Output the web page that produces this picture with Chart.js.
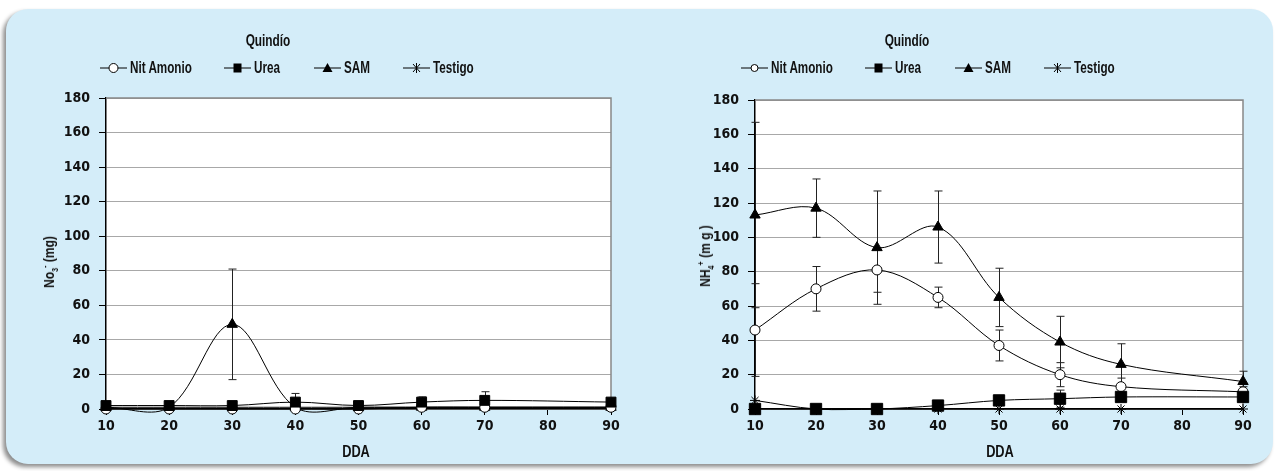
<!DOCTYPE html>
<html>
<head>
<meta charset="utf-8">
<script src="https://cdn.jsdelivr.net/npm/chart.js@4.4.0/dist/chart.umd.min.js"></script>
<style>
    body { margin: 0; width: 1280px; height: 471px; background: #ffffff; position: relative; overflow: hidden; }
    .panel { position: absolute; left: 6px; top: 9px; width: 1267px; height: 455px; border-radius: 22px;
             background: #d4edf9; box-shadow: -3px 3px 4px rgba(0,0,0,0.45); }
    canvas.plot { position: absolute; top: 0; }
    .txt { position: absolute; font-family: 'Liberation Sans', Arial, sans-serif; font-weight: bold; color: #111; white-space: nowrap; }
    .title { font-size: 16px; transform: translateX(-50%) scaleX(0.74); }
    .dda { font-size: 16px; transform: translateX(-50%) scaleX(0.8); }
    .ylab { font-size: 15px; transform: translate(-50%, -50%) rotate(-90deg) scaleX(0.8); }
    .ylab sub, .ylab sup { font-size: 9px; }
    .leg { font-size: 16px; display: flex; align-items: center; }
    .leg svg { margin-right: 3px; }
    .leg span { display: inline-block; transform: scaleX(0.73); transform-origin: left center; }
</style>
</head>
<body>
<div class="panel"></div>
<canvas id="no3Chart" class="plot" style="left:0px" width="640" height="471"></canvas>
<canvas id="nh4Chart" class="plot" style="left:640px" width="640" height="471"></canvas>

<div class="txt title" style="left:268px; top:32px">Quindío</div>
<div class="txt title" style="left:907px; top:32px">Quindío</div>
<div class="txt dda" style="left:356px; top:443px">DDA</div>
<div class="txt dda" style="left:1000px; top:443px">DDA</div>
<div class="txt ylab" style="left:50px; top:262px">No<sub>3</sub><sup>-</sup> (mg)</div>
<div class="txt ylab" style="left:706px; top:256px">NH<sub>4</sub><sup>+</sup> (m g )</div>
<div id="legends"></div>

<script>
// Días después de aplicación
const dda = [10, 20, 30, 40, 50, 60, 70, 90];
const seriesNames = ['Nit Amonio', 'Urea', 'SAM', 'Testigo'];

// Nitratos (NO3-)
const nitNo3 = [0, 0, 0, 0, 0, 1, 1, 1];
const ureaNo3 = [2, 2, 2, 4, 2, 4, 5, 4];
const samNo3 = [1, 1, 49, 1, 1, 1, 1, 1];
const testNo3 = [1, 1, 1, 1, 1, 1, 1, 1];
const ureaNo3Err = [0, 0, 0, 5, 0, 3, 5, 0];
const samNo3Err = [0, 0, 32, 0, 0, 0, 0, 0];

// Amonio (NH4+)
const nitNh4 = [46, 70, 81, 65, 37, 20, 13, 10];
const ureaNh4 = [0, 0, 0, 2, 5, 6, 7, 7];
const samNh4 = [113, 117, 94, 106, 65, 39, 26, 16];
const testNh4 = [5, 0, 0, 0, 0, 0, 0, 0];
const nitNh4Err = [27, 13, 13, 6, 9, 7, 5, 3];
const ureaNh4Err = [0, 0, 0, 0, 0, 5, 0, 0];
const samNh4Err = [54, 17, 33, 21, 17, 15, 12, 6];

const yTicks = { min: 0, max: 180, step: 20 };

const tickFont = "'DejaVu Sans Condensed', 'DejaVu Sans', sans-serif";

const toPoints = arr => dda.map((x, i) => ({ x: x, y: arr[i] }));

const plotFrame = {
    id: 'plotFrame',
    beforeDraw(chart) {
        const { ctx, chartArea: a } = chart;
        ctx.save();
        ctx.fillStyle = '#ffffff';
        ctx.fillRect(a.left, a.top, a.right - a.left, a.bottom - a.top);
        ctx.restore();
    },
    beforeDatasetsDraw(chart) {
        const { ctx, chartArea: a } = chart;
        ctx.save();
        ctx.strokeStyle = '#888888';
        ctx.lineWidth = 1.5;
        ctx.beginPath();
        ctx.moveTo(a.left, a.top);
        ctx.lineTo(a.right, a.top);
        ctx.lineTo(a.right, a.bottom);
        ctx.stroke();
        ctx.restore();
    }
};

const errorBars = {
    id: 'errorBars',
    beforeDatasetsDraw(chart) {
        const { ctx, scales: { x, y } } = chart;
        ctx.save();
        ctx.strokeStyle = '#222222';
        ctx.lineWidth = 1;
        chart.data.datasets.forEach(ds => {
            if (!ds.errors) return;
            ds.data.forEach((p, i) => {
                const e = ds.errors[i];
                if (!e) return;
                const px = Math.round(x.getPixelForValue(p.x)) + 0.5;
                const top = y.getPixelForValue(Math.min(yTicks.max, p.y + e));
                const bot = y.getPixelForValue(Math.max(yTicks.min, p.y - e));
                ctx.beginPath();
                ctx.moveTo(px, top);
                ctx.lineTo(px, bot);
                ctx.moveTo(px - 4, top);
                ctx.lineTo(px + 4, top);
                ctx.moveTo(px - 4, bot);
                ctx.lineTo(px + 4, bot);
                ctx.stroke();
            });
        });
        ctx.restore();
    }
};

function makeDatasets(nit, urea, sam, test, errs, big) {
    const base = {
        borderColor: '#000000',
        borderWidth: 1,
        tension: 0.35,
        clip: 12,
        pointBorderColor: '#000000',
        pointBorderWidth: 1
    };
    return [
        Object.assign({}, base, { label: seriesNames[0], data: toPoints(nit), errors: errs[0],
            pointStyle: 'circle', pointRadius: 5, pointBackgroundColor: '#ffffff', order: 1 }),
        Object.assign({}, base, { label: seriesNames[1], data: toPoints(urea), errors: errs[1],
            pointStyle: 'rect', pointRadius: big ? 8 : 7, pointBackgroundColor: '#000000', order: 0 }),
        Object.assign({}, base, { label: seriesNames[2], data: toPoints(sam), errors: errs[2],
            pointStyle: 'triangle', pointRadius: 6, pointBackgroundColor: '#000000', order: 2 }),
        Object.assign({}, base, { label: seriesNames[3], data: toPoints(test),
            pointStyle: 'star', pointRadius: 5, pointBackgroundColor: '#000000', order: 3 })
    ];
}

function makeChart(id, datasets, pad) {
    return new Chart(document.getElementById(id), {
        type: 'line',
        data: { datasets: datasets },
        options: {
            responsive: false,
            animation: false,
            layout: { padding: pad },
            elements: { line: { capBezierPoints: false } },
            plugins: {
                legend: { display: false },
                tooltip: { enabled: false }
            },
            scales: {
                x: {
                    type: 'linear',
                    min: 10,
                    max: 90,
                    ticks: {
                        stepSize: 10,
                        color: '#111111',
                        padding: 3,
                        font: { family: tickFont, size: 14, weight: 'bold' }
                    },
                    grid: { drawOnChartArea: false, drawTicks: true, tickLength: 6, tickColor: '#000000' },
                    border: { color: '#000000', width: 1.5 },
                    afterFit: s => { s.height = 30; }
                },
                y: {
                    min: yTicks.min,
                    max: yTicks.max,
                    ticks: {
                        stepSize: yTicks.step,
                        color: '#111111',
                        padding: 9,
                        font: { family: tickFont, size: 14, weight: 'bold' }
                    },
                    grid: { color: '#a8a8a8', lineWidth: 1, tickLength: 7, tickColor: '#000000' },
                    border: { color: '#000000', width: 1.5 },
                    afterFit: s => { s.width = 60; }
                }
            }
        },
        plugins: [plotFrame, errorBars]
    });
}

makeChart('no3Chart',
    makeDatasets(nitNo3, ureaNo3, samNo3, testNo3, [null, ureaNo3Err, samNo3Err], false),
    { left: 46, top: 98, right: 29, bottom: 32 });

makeChart('nh4Chart',
    makeDatasets(nitNh4, ureaNh4, samNh4, testNh4, [nitNh4Err, ureaNh4Err, samNh4Err], true),
    { left: 55, top: 100, right: 37, bottom: 32 });

// Leyendas (línea + marcador + texto)
function markerSvg(kind, small) {
    const line = '<line x1="0" y1="7" x2="27" y2="7" stroke="#000" stroke-width="1"/>';
    let m = '';
    if (kind === 0) m = '<circle cx="13.5" cy="7" r="' + (small ? 3.5 : 4.5) + '" fill="#fff" stroke="#000" stroke-width="1"/>';
    if (kind === 1) m = '<rect x="9.5" y="2.5" width="8" height="9" fill="#000"/>';
    if (kind === 2) m = '<polygon points="13.5,2 18.5,11 8.5,11" fill="#000"/>';
    if (kind === 3) m = '<path d="M10,3 L17,11 M17,3 L10,11 M13.5,2 L13.5,12" stroke="#000" stroke-width="1" fill="none"/>';
    return '<svg width="27" height="14">' + line + m + '</svg>';
}

const legendX = [100, 224, 314, 403];
const holder = document.getElementById('legends');
[0, 641].forEach((off, c) => {
    seriesNames.forEach((name, i) => {
        const d = document.createElement('div');
        d.className = 'txt leg';
        d.style.left = (legendX[i] + off) + 'px';
        d.style.top = '59px';
        d.innerHTML = markerSvg(i, c === 1) + '<span>' + name + '</span>';
        holder.appendChild(d);
    });
});
</script>
</body>
</html>
